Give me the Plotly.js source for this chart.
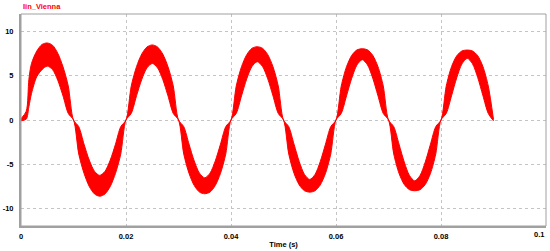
<!DOCTYPE html>
<html>
<head>
<meta charset="utf-8">
<script src="https://cdn.plot.ly/plotly-3.0.1.min.js"></script>
<style>html,body{margin:0;padding:0;background:#fff;}#chart{width:550px;height:251px;}</style>
</head>
<body>
<div id="chart"></div>
<script>
// Time samples (s)
const timeS = [0, 0.001, 0.0015, 0.002, 0.003, 0.004, 0.005, 0.006, 0.007, 0.008, 0.009,
  0.010, 0.011, 0.012, 0.013, 0.014, 0.015, 0.016, 0.017, 0.018, 0.019,
  0.020, 0.021, 0.022, 0.023, 0.024, 0.025, 0.026, 0.027, 0.028, 0.029,
  0.030, 0.031, 0.032, 0.033, 0.034, 0.035, 0.036, 0.037, 0.038, 0.039,
  0.040, 0.041, 0.042, 0.043, 0.044, 0.045, 0.046, 0.047, 0.048, 0.049,
  0.050, 0.051, 0.052, 0.053, 0.054, 0.055, 0.056, 0.057, 0.058, 0.059,
  0.060, 0.061, 0.062, 0.063, 0.064, 0.065, 0.066, 0.067, 0.068, 0.069,
  0.070, 0.071, 0.072, 0.073, 0.074, 0.075, 0.076, 0.077, 0.078, 0.079,
  0.080, 0.081, 0.082, 0.083, 0.084, 0.085, 0.086, 0.087, 0.088, 0.089, 0.090];

// Upper edge of the ripple band of Iin_Vienna (A)
const iinUpper = [0.15, 1.0, 4.6, 6.4, 7.8, 8.55, 8.72, 8.47, 7.56, 6.03, 3.85,
  0, -0.75, -2.73, -4.54, -5.81, -6.27, -5.81, -4.54, -2.73, -0.75,
  0, 3.85, 6.03, 7.47, 8.27, 8.50, 8.27, 7.47, 6.03, 3.85,
  0, -0.75, -2.73, -4.64, -6.02, -6.55, -6.02, -4.64, -2.73, -0.75,
  0, 3.85, 6.03, 7.40, 8.12, 8.30, 8.12, 7.40, 6.03, 3.85,
  0, -0.75, -2.73, -4.71, -6.17, -6.73, -6.17, -4.71, -2.73, -0.75,
  0, 3.85, 6.03, 7.32, 7.94, 8.07, 7.94, 7.32, 6.03, 3.85,
  0, -0.75, -2.73, -4.76, -6.29, -6.89, -6.29, -4.76, -2.73, -0.75,
  0, 3.85, 6.03, 7.27, 7.82, 7.92, 7.82, 7.27, 6.03, 3.85, 0.05];

// Lower edge of the ripple band of Iin_Vienna (A)
const iinLower = [-0.1, 0.1, 1.5, 3.0, 4.9, 5.7, 6.1, 5.71, 4.50, 2.73, 0.75,
  0, -3.85, -6.03, -7.52, -8.37, -8.63, -8.37, -7.52, -6.03, -3.85,
  0, 0.75, 2.73, 4.59, 5.91, 6.40, 5.91, 4.59, 2.73, 0.75,
  0, -3.85, -6.03, -7.42, -8.16, -8.35, -8.16, -7.42, -6.03, -3.85,
  0, 0.75, 2.73, 4.66, 6.06, 6.60, 6.06, 4.66, 2.73, 0.75,
  0, -3.85, -6.03, -7.35, -8.01, -8.17, -8.01, -7.35, -6.03, -3.85,
  0, 0.75, 2.73, 4.74, 6.24, 6.83, 6.24, 4.74, 2.73, 0.75,
  0, -3.85, -6.03, -7.30, -7.89, -8.01, -7.89, -7.30, -6.03, -3.85,
  0, 0.75, 2.73, 4.79, 6.36, 6.98, 6.36, 4.79, 2.73, 0.75, -0.1];

const xTickVals = [0, 0.02, 0.04, 0.06, 0.08];
const xTickText = ['0', '0.02', '0.04', '0.06', '0.08'];
const xEndLabel = '0.1';
const yTickVals = [-10, -5, 0, 5, 10];
const yTickText = ['-10', '-5', '0', '5', '10'];
const seriesName = 'Iin_Vienna';
const xTitle = 'Time (s)';

const RED = '#ff0000';
const tickFont = {family: 'Liberation Sans, Arial, sans-serif', size: 7.5, color: '#000', weight: 'bold'};

const traces = [
  {x: timeS, y: iinLower, type: 'scatter', mode: 'lines',
   line: {color: RED, width: 1, shape: 'spline', smoothing: 0.8}, hoverinfo: 'skip', showlegend: false},
  {x: timeS, y: iinUpper, type: 'scatter', mode: 'lines', fill: 'tonexty', fillcolor: RED,
   line: {color: RED, width: 1, shape: 'spline', smoothing: 0.8}, name: seriesName, showlegend: false}
];

const layout = {
  width: 550, height: 251,
  margin: {l: 21, r: 4, t: 14, b: 25, pad: 0},
  paper_bgcolor: '#fff', plot_bgcolor: '#fff',
  showlegend: false,
  xaxis: {
    range: [0, 0.1], tickvals: xTickVals, ticktext: xTickText,
    showgrid: true, gridcolor: '#c4c4c4', griddash: 'dot', gridwidth: 1,
    zeroline: false, showline: true, linecolor: '#a0a0a0', linewidth: 2,
    ticks: '', tickfont: tickFont, ticklabelstandoff: 2,
    title: {text: xTitle, font: {family: 'Liberation Sans, Arial, sans-serif', size: 7.5, color: '#000', weight: 'bold'}, standoff: 2}
  },
  yaxis: {
    range: [-12, 12], tickvals: yTickVals, ticktext: yTickText,
    showgrid: true, gridcolor: '#c4c4c4', griddash: 'dot', gridwidth: 1,
    zeroline: false, showline: true, linecolor: '#a0a0a0', linewidth: 2,
    ticks: '', tickfont: tickFont, ticklabelstandoff: 4
  },
  shapes: [
    {type: 'rect', xref: 'paper', yref: 'paper', x0: 0, x1: 1, y0: 0, y1: 1,
     line: {color: '#a0a0a0', width: 1}, fillcolor: 'rgba(0,0,0,0)', layer: 'above'}
  ],
  annotations: [
    {text: seriesName, xref: 'paper', yref: 'paper', x: 0, y: 1, xanchor: 'left', yanchor: 'bottom', yshift: 1,
     showarrow: false, font: {family: 'Liberation Sans, Arial, sans-serif', size: 7.5, color: RED, weight: 'bold'}},
    {text: xEndLabel, xref: 'x', yref: 'paper', x: 0.1, y: 0, xanchor: 'right', yanchor: 'top', yshift: -2,
     showarrow: false, font: tickFont}
  ]
};

Plotly.newPlot('chart', traces, layout, {displayModeBar: false, staticPlot: true});
</script>
</body>
</html>
